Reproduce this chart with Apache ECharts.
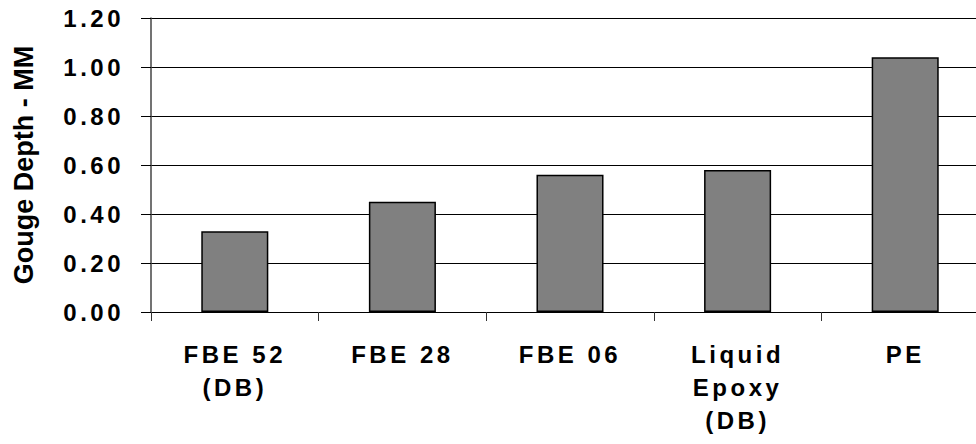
<!DOCTYPE html>
<html>
<head>
<meta charset="utf-8">
<script src="https://cdn.jsdelivr.net/npm/echarts@6/dist/echarts.min.js"></script>
<style>
  html, body { margin: 0; padding: 0; background: #fff; }
  #chart { width: 976px; height: 444px; }
  /* tick and category captions are drawn slightly spaced out */
  #chart text[style*="Arimo"] { letter-spacing: 3.5px; }
</style>
</head>
<body>
<div id="chart"></div>
<script>
// Coating types and measured gouge depth (mm)
const categories = ['FBE 52\n(DB)', 'FBE 28', 'FBE 06', 'Liquid\nEpoxy\n(DB)', 'PE'];
const gougeDepth = [0.33, 0.45, 0.56, 0.58, 1.04];
const yAxisMin = 0;
const yAxisMax = 1.2;
const yAxisStep = 0.2;
const yAxisTitle = 'Gouge Depth - MM';

const labelFont = 'Liberation Sans, Arimo';

const chart = echarts.init(document.getElementById('chart'), null, { renderer: 'svg' });

chart.setOption({
  animation: false,
  backgroundColor: '#ffffff',
  grid: {
    left: 151, top: 18, width: 838, bottom: 132,
    containLabel: false,
    outerBoundsMode: 'none'
  },
  xAxis: {
    type: 'category',
    data: categories,
    boundaryGap: true,
    axisLine: { show: true, lineStyle: { color: '#000', width: 1 } },
    axisTick: { show: true, alignWithLabel: false, length: 9, inside: false,
      lineStyle: { color: '#333', width: 1 } },
    axisLabel: {
      interval: 0,
      margin: 26,
      color: '#000',
      fontFamily: labelFont,
      fontWeight: 'bold',
      fontSize: 24,
      lineHeight: 33,
      verticalAlign: 'top'
    },
    splitLine: { show: false }
  },
  yAxis: {
    type: 'value',
    min: yAxisMin,
    max: yAxisMax,
    interval: yAxisStep,
    name: yAxisTitle,
    nameLocation: 'middle',
    nameGap: 114,
    nameRotate: 90,
    nameTextStyle: {
      color: '#000',
      fontFamily: 'Liberation Sans',
      fontWeight: 'bold',
      fontSize: 27
    },
    axisLine: { show: true, lineStyle: { color: '#444', width: 1.5 } },
    axisTick: { show: true, length: 10, inside: false, lineStyle: { color: '#000', width: 1 } },
    axisLabel: {
      margin: 27,
      color: '#000',
      fontFamily: labelFont,
      fontWeight: 'bold',
      fontSize: 24,
      formatter: v => v.toFixed(2)
    },
    splitLine: { show: true, lineStyle: { color: '#000', width: 1 } }
  },
  series: [{
    type: 'bar',
    data: gougeDepth,
    barWidth: '40%',
    itemStyle: { color: '#808080', borderColor: '#000', borderWidth: 1.5 }
  }]
});
</script>
</body>
</html>
